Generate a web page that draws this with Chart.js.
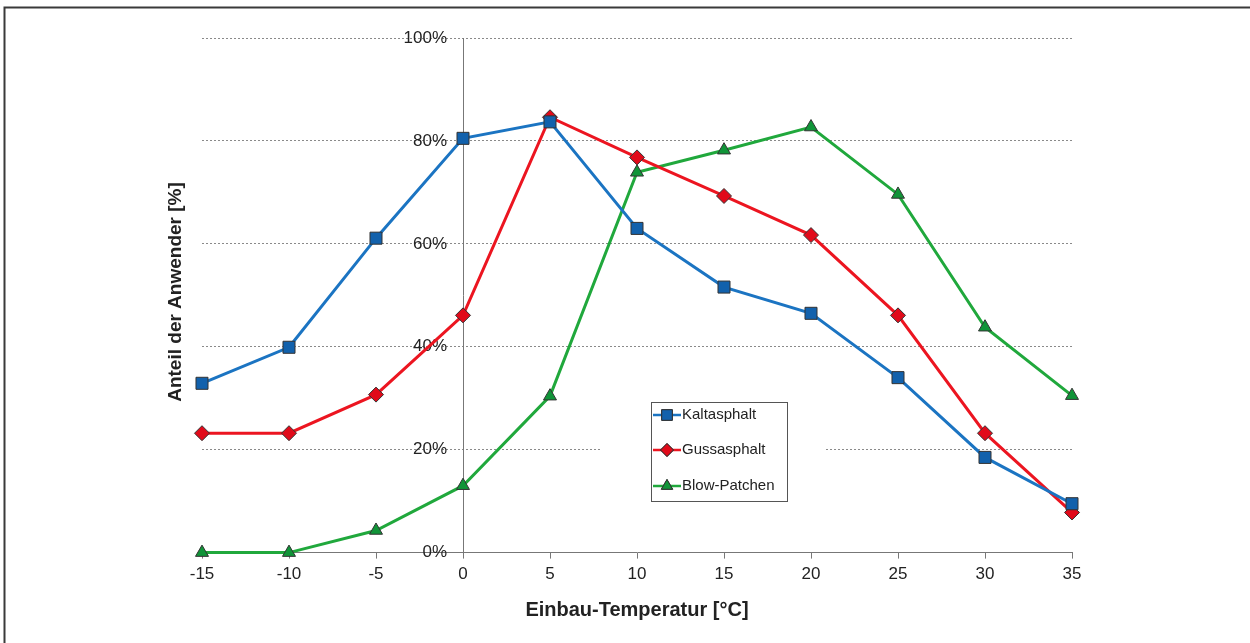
<!DOCTYPE html>
<html>
<head>
<meta charset="utf-8">
<script src="https://cdn.jsdelivr.net/npm/chart.js@4"></script>
<style>
  html, body { margin: 0; padding: 0; background: #fff; }
  #wrap { width: 1250px; height: 643px; position: relative; }
</style>
</head>
<body>
<div id="wrap"><canvas id="tempChart"></canvas></div>
<script>
const temperatures = ["-15", "-10", "-5", "0", "5", "10", "15", "20", "25", "30", "35"];
const kaltasphalt = [32.9, 39.9, 61.1, 80.5, 83.7, 63.0, 51.6, 46.5, 34.0, 18.5, 9.5];
const gussasphalt = [23.2, 23.2, 30.7, 46.1, 84.6, 76.8, 69.3, 61.7, 46.1, 23.2, 7.8];
const blowPatchen = [0, 0, 4.3, 13.0, 30.4, 73.9, 78.2, 82.7, 69.6, 43.8, 30.5];
const yTicks = [0, 20, 40, 60, 80, 100];

const FONT = "'Liberation Sans', Arial, sans-serif";

const series = [
    { label: "Kaltasphalt", data: kaltasphalt, line: "#1b74c2", fill: "#1261ac", style: "rect", radius: 8.5 },
    { label: "Gussasphalt", data: gussasphalt, line: "#ec1520", fill: "#e10a1a", style: "rectRot", radius: 7.5 },
    { label: "Blow-Patchen", data: blowPatchen, line: "#20a83c", fill: "#109438", style: "triangle", radius: 7.5 }
];

// Rahmen, Y-Achsentitel und Legende selbst zeichnen
const extras = {
    id: "extras",
    beforeDatasetsDraw(chart) {
        const c = chart.ctx;
        c.save();
        c.fillStyle = "#fff";
        c.fillRect(600, 392, 226, 120); // weisser Hintergrund hinter der Legende
        c.restore();
    },
    afterDraw(chart) {
        const c = chart.ctx;
        c.save();
        // Rahmen oben / links
        c.strokeStyle = "#3a3a3a";
        c.lineWidth = 2;
        c.beginPath();
        c.moveTo(4.5, 643);
        c.lineTo(4.5, 7.5);
        c.lineTo(1250, 7.5);
        c.stroke();

        // Y-Titel
        c.translate(176, 292);
        c.rotate(-Math.PI / 2);
        c.fillStyle = "#222";
        c.font = "bold 19px " + FONT;
        c.textAlign = "center";
        c.textBaseline = "middle";
        c.fillText("Anteil der Anwender [%]", 0, 0);
        c.restore();

        // Legende
        c.save();
        c.fillStyle = "#fff";
        c.fillRect(651, 402, 136, 99);
        c.strokeStyle = "#555";
        c.lineWidth = 1;
        c.strokeRect(651.5, 402.5, 136, 99);
        const rows = [415, 450, 486];
        series.forEach((s, i) => {
            const y = rows[i];
            c.strokeStyle = s.line;
            c.lineWidth = 2.5;
            c.beginPath();
            c.moveTo(653, y);
            c.lineTo(681, y);
            c.stroke();
            c.fillStyle = s.fill;
            c.strokeStyle = "#333";
            c.lineWidth = 1;
            Chart.helpers.drawPoint(c, { pointStyle: s.style, radius: s.radius - 1, borderWidth: 1, rotation: 0 }, 667, y);
            c.fill();
            c.stroke();
            c.fillStyle = "#222";
            c.font = "15px " + FONT;
            c.textAlign = "left";
            c.textBaseline = "middle";
            c.fillText(s.label, 682, y);
        });
        c.restore();
    }
};

const ctx = document.getElementById("tempChart").getContext("2d");
const chart = new Chart(ctx, {
    type: "line",
    data: {
        labels: temperatures,
        datasets: series.map(s => ({
            label: s.label,
            data: s.data,
            borderColor: s.line,
            borderWidth: 3,
            backgroundColor: s.fill,
            pointStyle: s.style,
            pointRadius: s.radius,
            pointBackgroundColor: s.fill,
            pointBorderColor: "#333",
            pointBorderWidth: 1,
            tension: 0,
            fill: false,
            clip: false
        }))
    },
    options: {
        responsive: true,
        maintainAspectRatio: false,
        animation: false,
        layout: { padding: { left: 202, right: 178, top: 38, bottom: 21 } },
        plugins: {
            legend: { display: false },
            tooltip: { enabled: false }
        },
        scales: {
            x: {
                offset: false,
                grid: { drawOnChartArea: false, drawTicks: true, tickLength: 6, color: "#777" },
                border: { color: "#777", width: 1 },
                ticks: { color: "#222", font: { family: FONT, size: 17 }, padding: 6, maxRotation: 0 },
                title: {
                    display: true,
                    text: "Einbau-Temperatur [°C]",
                    color: "#222",
                    font: { family: FONT, size: 20, weight: "bold" },
                    padding: { top: 7, bottom: 0 }
                }
            },
            // Achsenlinie und Gitter bei 0 °C
            y: {
                position: { x: 3 },
                min: 0,
                max: 100,
                afterBuildTicks: axis => { axis.ticks = yTicks.map(v => ({ value: v })); },
                grid: { drawTicks: false, color: "#8a8a8a" },
                border: { color: "#777", width: 1, dash: [2, 2] },
                ticks: { display: false }
            },
            // nur Beschriftung, etwas links von der Achse
            yLabels: {
                position: { x: 2.816 },
                min: 0,
                max: 100,
                afterBuildTicks: axis => { axis.ticks = yTicks.map(v => ({ value: v })); },
                grid: { display: false },
                border: { display: false },
                ticks: {
                    color: "#222",
                    font: { family: FONT, size: 17 },
                    padding: 0,
                    callback: v => v + "%"
                }
            }
        }
    },
    plugins: [extras]
});
</script>
</body>
</html>
